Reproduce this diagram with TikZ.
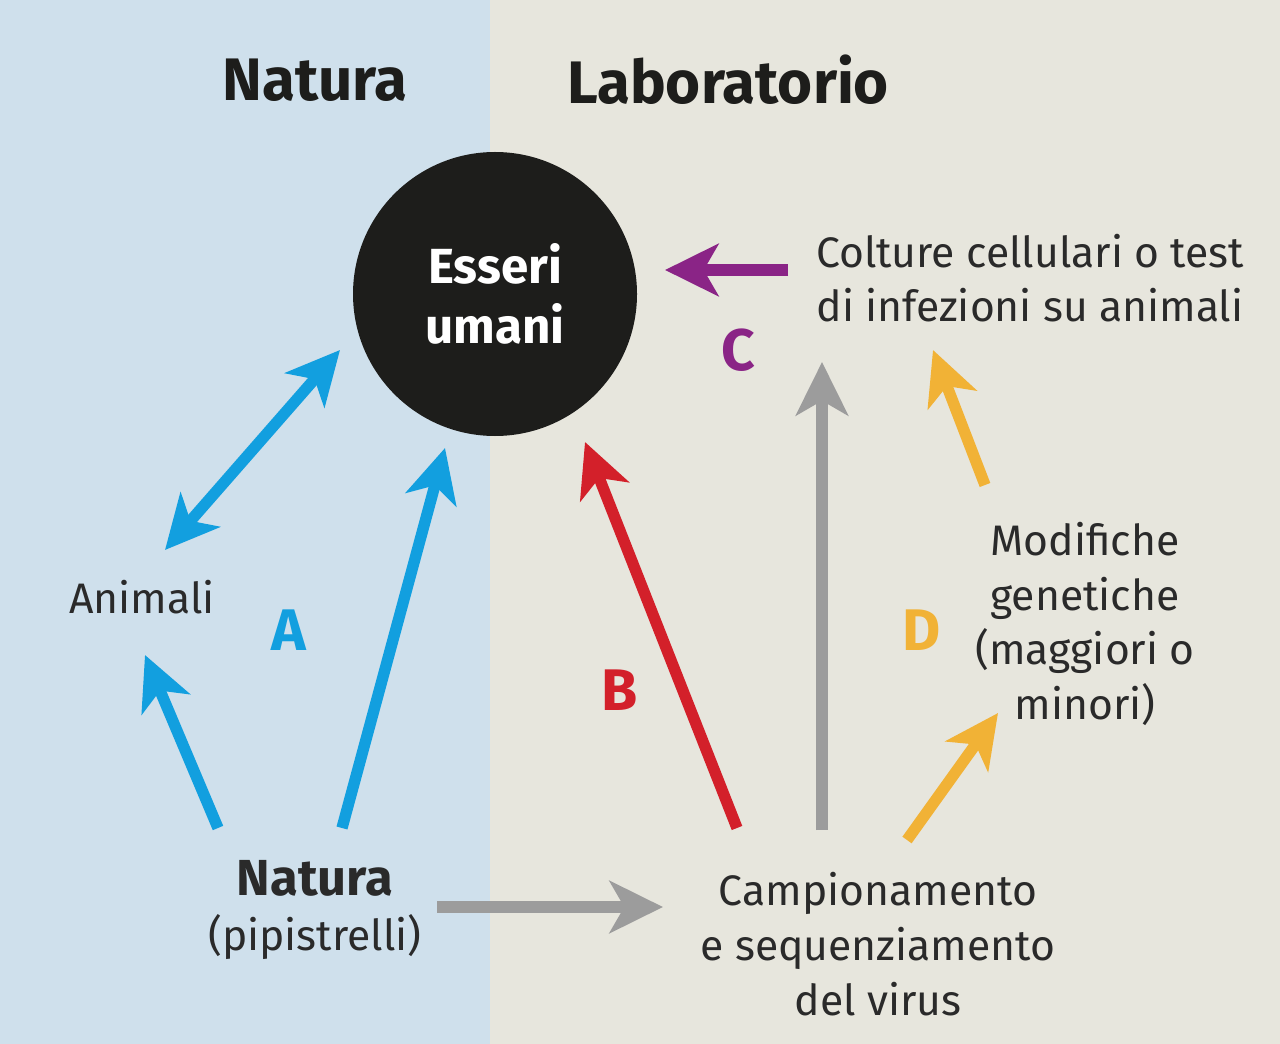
\documentclass[tikz,border=0pt]{standalone}
\usepackage{fontspec}
\setmainfont{Fira Sans}
\usetikzlibrary{arrows.meta}
\definecolor{bgblue}{HTML}{CFE0EC}
\definecolor{bgbeige}{HTML}{E7E6DD}
\definecolor{ablue}{HTML}{129FDF}
\definecolor{ared}{HTML}{D3202A}
\definecolor{apurple}{HTML}{8A2486}
\definecolor{agrey}{HTML}{9C9C9C}
\definecolor{aorange}{HTML}{F1B236}
\definecolor{txt}{HTML}{2A2A2A}
\definecolor{ink}{HTML}{1D1D1B}
\tikzset{
  body/.style={font=\fontsize{32}{41}\selectfont, text=txt, align=center, inner sep=0pt},
  title/.style={font=\fontsize{45}{50}\selectfont\bfseries, text=ink, inner sep=0pt},
  letter/.style={font=\fontsize{44}{48}\selectfont\bfseries, inner sep=0pt},
  arr/.style={line width=8.5pt, -{Stealth[length=40pt, width=39pt, inset=11pt]}},
  darr/.style={line width=8.5pt, {Stealth[length=40pt, width=39pt, inset=11pt]}-{Stealth[length=40pt, width=39pt, inset=11pt]}}
}
\begin{document}
\begin{tikzpicture}[x=0.75pt, y=-0.75pt]
\useasboundingbox (0,0) rectangle (1280,1044);
\fill[bgblue] (0,0) rectangle (490,1044);
\fill[bgbeige] (490,0) rectangle (1280,1044);

\node[title] (tnat) at (315,80) {Natura};
\node[title] (tlab) at (728,80) {Laboratorio};

\node[circle, fill=ink, minimum size=213pt, inner sep=0pt, align=center,
      font=\fontsize{37}{45}\selectfont\bfseries, text=white] (hum) at (495,294) {Esseri\\umani};

\node[body] (colt) at (1030,278) {Colture cellulari o test\\di infezioni su animali};
\node[body] (mod) at (1085,624) {Modifiche\\genetiche\\(maggiori o\\minori)};
\node[body] (camp) at (878,944) {Campionamento\\e sequenziamento\\del virus};
\node[body] (anim) at (142,597) {Animali};
\node[body] (nat) at (315,910) {{\fontsize{38}{41}\selectfont\bfseries Natura}\\(pipistrelli)};

\node[letter, text=ablue] (la) at (289,630) {A};
\node[letter, text=ared] (lb) at (620,690) {B};
\node[letter, text=apurple] (lc) at (738,350) {C};
\node[letter, text=aorange] (ld) at (922,630) {D};

\coordinate (c1s) at (788,270); \coordinate (c1e) at (665,270);
\coordinate (g1s) at (822,830); \coordinate (g1e) at (822,362);
\coordinate (g2s) at (437,907); \coordinate (g2e) at (663,907);
\coordinate (r1s) at (737,828); \coordinate (r1e) at (585,442);
\coordinate (o1s) at (985,485); \coordinate (o1e) at (933,350);
\coordinate (o2s) at (907,840); \coordinate (o2e) at (998,713);
\coordinate (b1s) at (165,550); \coordinate (b1e) at (340,350);
\coordinate (b2s) at (218,828); \coordinate (b2e) at (145,655);
\coordinate (b3s) at (342,828); \coordinate (b3e) at (445,448);

\draw[arr, apurple] (c1s) -- (c1e);
\draw[arr, agrey] (g1s) -- (g1e);
\draw[arr, agrey] (g2s) -- (g2e);
\draw[arr, ared] (r1s) -- (r1e);
\draw[arr, aorange] (o1s) -- (o1e);
\draw[arr, aorange] (o2s) -- (o2e);
\draw[darr, ablue] (b1s) -- (b1e);
\draw[arr, ablue] (b2s) -- (b2e);
\draw[arr, ablue] (b3s) -- (b3e);
\end{tikzpicture}
\end{document}
